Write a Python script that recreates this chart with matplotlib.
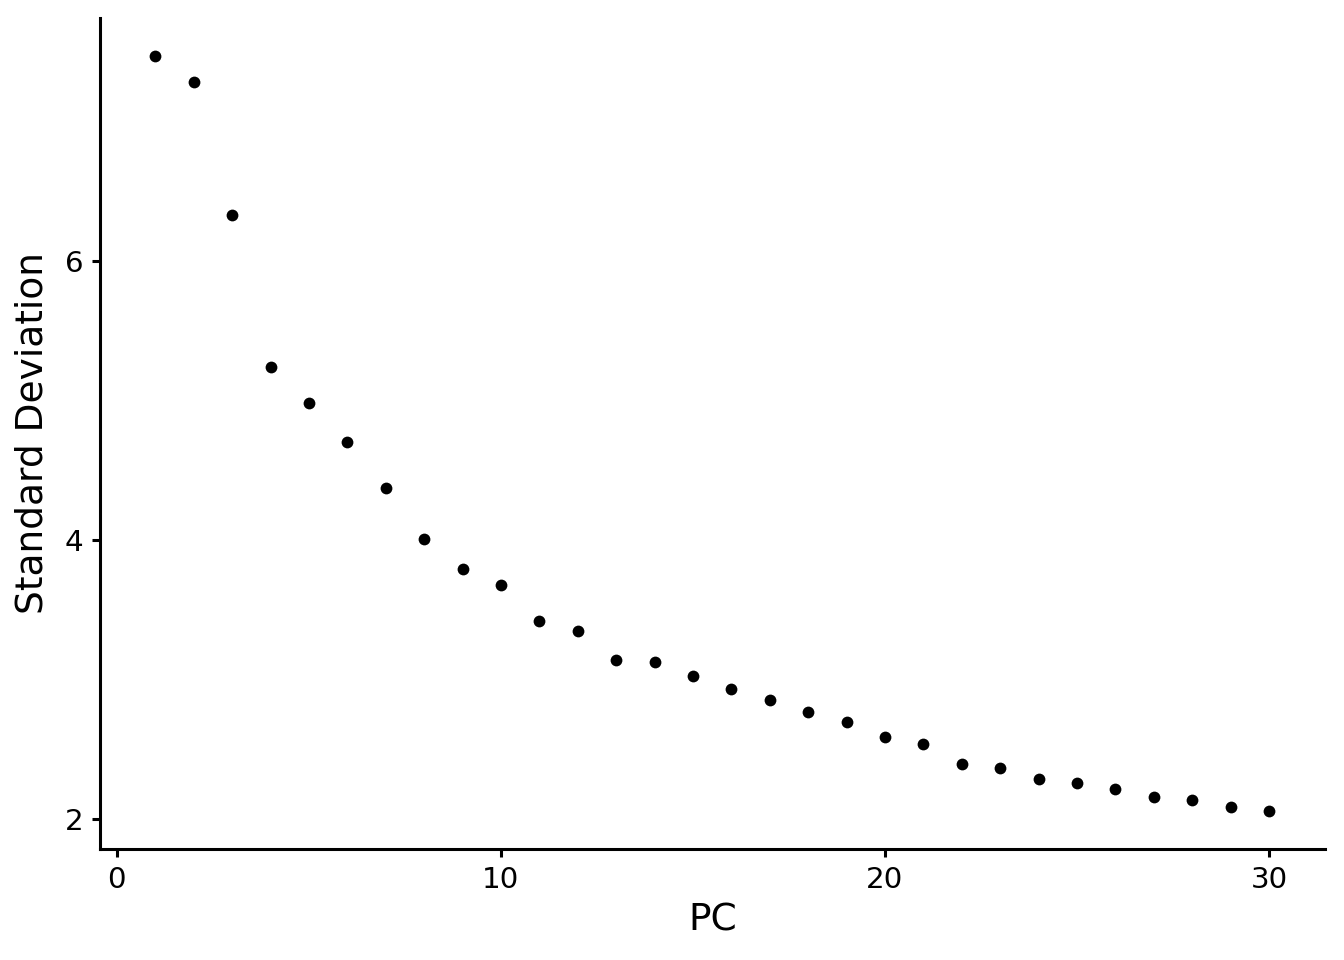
import matplotlib.pyplot as plt

pc = list(range(1, 31))
stdev = [7.47, 7.28, 6.33, 5.24, 4.98, 4.70, 4.37, 4.01, 3.79, 3.68,
         3.42, 3.35, 3.14, 3.125, 3.025, 2.93, 2.85, 2.77, 2.695, 2.59,
         2.54, 2.395, 2.365, 2.29, 2.26, 2.215, 2.16, 2.135, 2.085, 2.055]

fig = plt.figure(figsize=(6.72, 4.8), dpi=200)
ax = fig.add_axes([0.0744, 0.1156, 0.9116, 0.8656])

ax.scatter(pc, stdev, s=18, color="black", linewidths=0)

ax.set_xlim(-0.44, 31.46)
ax.set_ylim(1.785, 7.742)
ax.set_xticks([0, 10, 20, 30])
ax.set_yticks([2, 4, 6])

for side in ["top", "right"]:
    ax.spines[side].set_visible(False)
for side in ["left", "bottom"]:
    ax.spines[side].set_linewidth(1.1)

ax.tick_params(width=1.1, length=3, labelsize=10.6, pad=3)
ax.set_xlabel("PC", fontsize=13.5, labelpad=3)
ax.set_ylabel("Standard Deviation", fontsize=13.5, labelpad=5)

fig.savefig("out.png", dpi=200)
